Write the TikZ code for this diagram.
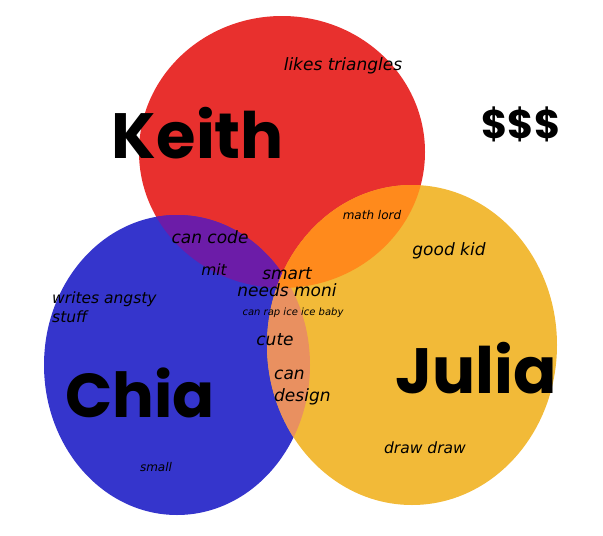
\documentclass[tikz,border=0pt]{standalone}
\usepackage{fontspec}
\setmainfont{DejaVu Sans}
\newfontfamily\namefont{Poppins}
\usetikzlibrary{positioning}

\definecolor{keithred}{HTML}{E8302E}
\definecolor{chiablue}{HTML}{3535CC}
\definecolor{juliayellow}{HTML}{F2BA38}
\definecolor{redblue}{HTML}{6C1CA8}
\definecolor{redyellow}{HTML}{FF8A1C}
\definecolor{blueyellow}{HTML}{E99060}

\begin{document}
\begin{tikzpicture}[
    x=1pt, y=-1pt,
    every node/.style={inner sep=0pt, align=left},
    note/.style={font=\itshape\fontsize{15.5}{19}\selectfont},
    bignote/.style={font=\itshape\fontsize{17}{22}\selectfont},
    smallnote/.style={font=\itshape\fontsize{12}{14}\selectfont},
    tinynote/.style={font=\itshape\fontsize{10}{11}\selectfont},
    namebox/.style={font=\namefont\bfseries\fontsize{64}{64}\selectfont}
]
\useasboundingbox (0,0) rectangle (603,536);

% the three sets
\def\keithset{(282,152) ellipse [x radius=143pt, y radius=136pt]}
\def\chiaset{(177,365) ellipse [x radius=133pt, y radius=150pt]}
\def\juliaset{(412,345) ellipse [x radius=145pt, y radius=160pt]}

\fill[keithred] \keithset;
\fill[chiablue] \chiaset;
\fill[juliayellow] \juliaset;

% overlaps
\begin{scope}
  \clip \keithset;
  \fill[redblue] \chiaset;
\end{scope}
\begin{scope}
  \clip \chiaset;
  \fill[blueyellow] \juliaset;
\end{scope}
\begin{scope}
  \clip \keithset;
  \fill[redyellow] \juliaset;
\end{scope}

% names
\node[namebox] (keith) at (198,133) {Keith};
\node[namebox, font=\namefont\bfseries\fontsize{62}{62}\selectfont] (chia) at (140,393) {Chia};
\node[namebox] (julia) at (476,368) {Julia};
\node[font=\namefont\bfseries\fontsize{40}{40}\selectfont] (money) at (521,124) {\$\$\$};

% traits
\node[bignote] (triangles) at (343,66) {likes triangles};
\node[smallnote] (mathlord) at (372,215) {math lord};
\node[bignote] (goodkid) at (449,251) {good kid};
\node[bignote] (cancode) at (210,237) {can code};
\node[note] (mit) at (214,270) {mit};
\node[bignote] (smart) at (287,274) {smart};
\node[bignote] (moni) at (287,290) {needs moni};
\node[note, anchor=west] (angsty) at (52,307) {writes angsty\\stuff};
\node[tinynote] (rap) at (293,313) {can rap ice ice baby};
\node[bignote] (cute) at (275,340) {cute};
\node[bignote, anchor=west] (design) at (274,388) {can\\design};
\node[note] (drawdraw) at (425,448) {draw draw};
\node[smallnote] (small) at (156,467) {small};

\end{tikzpicture}
\end{document}
